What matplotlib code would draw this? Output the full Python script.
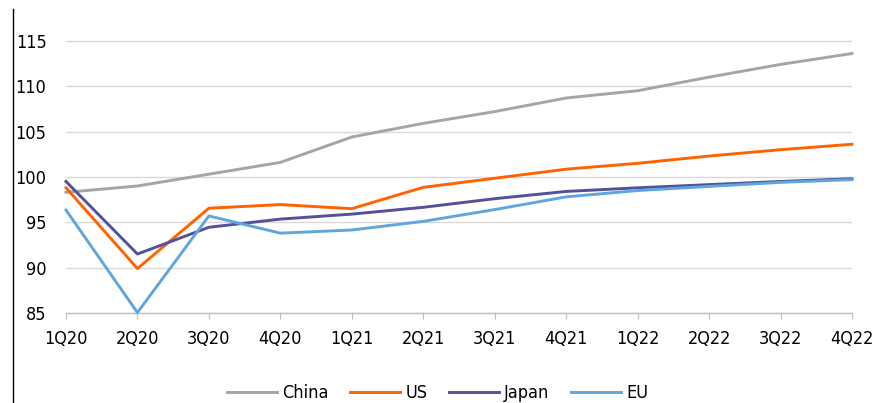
import matplotlib
matplotlib.use("Agg")
import matplotlib.pyplot as plt
from matplotlib.lines import Line2D

plt.rcParams["font.family"] = ["DejaVu Sans"]
plt.rcParams["font.stretch"] = "condensed"
plt.rcParams["font.size"] = 13

quarters = ["1Q20", "2Q20", "3Q20", "4Q20", "1Q21", "2Q21",
            "3Q21", "4Q21", "1Q22", "2Q22", "3Q22", "4Q22"]

china = [98.3, 99.0, 100.3, 101.6, 104.4, 105.9, 107.2, 108.7, 109.5, 111.0, 112.4, 113.6]
us = [98.8, 89.9, 96.55, 96.95, 96.5, 98.85, 99.85, 100.85, 101.5, 102.3, 103.0, 103.6]
japan = [99.5, 91.5, 94.45, 95.35, 95.9, 96.65, 97.6, 98.4, 98.8, 99.15, 99.5, 99.8]
eu = [96.35, 85.05, 95.7, 93.8, 94.15, 95.1, 96.4, 97.8, 98.5, 98.95, 99.4, 99.7]

series = [
    ("China", china, "#a5a5a5"),
    ("US", us, "#ff6200"),
    ("Japan", japan, "#525199"),
    ("EU", eu, "#5fa6de"),
]

fig = plt.figure(figsize=(8.75, 4.03), dpi=100)
ax = fig.add_axes([0.0754, 0.2233, 0.8983, 0.7767])

x = range(len(quarters))
for name, vals, col in series:
    ax.plot(x, vals, color=col, lw=2.1, label=name, clip_on=False, zorder=3)

ax.set_xlim(0, len(quarters) - 1)
ax.set_ylim(85, 119.5)
ax.set_yticks([85, 90, 95, 100, 105, 110, 115])
ax.set_xticks(list(x))
ax.set_xticklabels(quarters)

ax.grid(axis="y", color="#d9d9d9", lw=1.0, zorder=0)
for s in ["top", "right", "left"]:
    ax.spines[s].set_visible(False)
ax.spines["bottom"].set_color("#bfbfbf")
ax.spines["bottom"].set_linewidth(1.0)
ax.tick_params(axis="x", direction="out", length=4, color="#bfbfbf", pad=8)
ax.tick_params(axis="y", length=0, pad=14)

fig.legend(loc="center", bbox_to_anchor=(0.5, 0.025), ncol=4, frameon=False,
           handlelength=2.75, handletextpad=0.3, columnspacing=1.2)

# thin rule on the left edge
fig.add_artist(Line2D([0.0145, 0.0145], [0.0, 0.978], transform=fig.transFigure,
                      color="black", lw=1.0))

fig.savefig("out.png", dpi=100)
